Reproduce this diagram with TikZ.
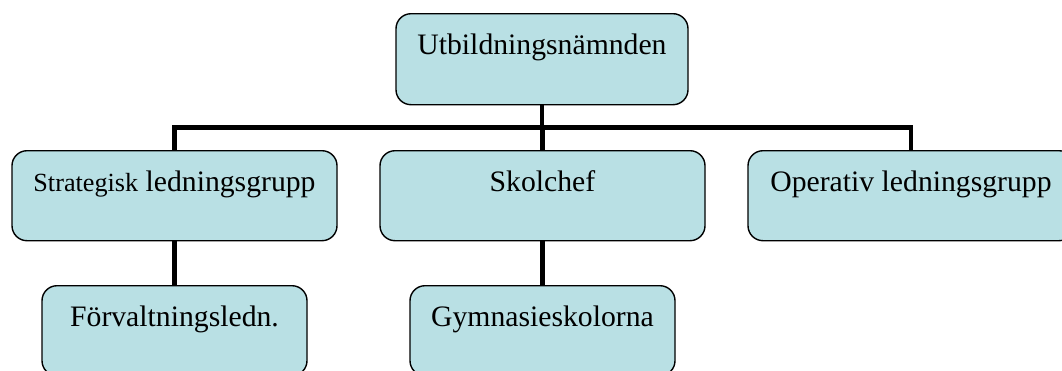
\documentclass[tikz,border=0pt]{standalone}
\usepackage{fontspec}
\setmainfont{Liberation Serif}
\definecolor{boxfill}{RGB}{185,224,228}
\tikzset{
  orgbox/.style={draw=black, line width=1.4pt, fill=boxfill, rounded corners=15pt,
    inner xsep=0pt, inner ysep=0pt, text height=41pt, text depth=49pt,
    anchor=north, font=\fontsize{29.7}{36}\selectfont},
  conn/.style={line width=4.8pt, line join=miter, black}
}
\begin{document}
\begin{tikzpicture}[x=1pt,y=-1pt]
\useasboundingbox (0,0) rectangle (1062,370);
\clip (0,0) rectangle (1062,370);
\fill[white] (0,0) rectangle (1062,370);
\coordinate (bar) at (0,127.5);
% connectors are drawn first, boxes on top
\path (542,13) node[orgbox, minimum width=292pt, text depth=50pt] (top) {Utbildningsnämnden};
\path (174.5,150) node[orgbox, minimum width=325pt] (strat) {{\fontsize{26.2}{32}\selectfont Strategisk} ledningsgrupp};
\path (542.5,150) node[orgbox, minimum width=325pt] (skol) {Skolchef};
\path (911,150) node[orgbox, minimum width=326pt] (op) {Operativ ledningsgrupp};
\path (174.5,285) node[orgbox, minimum width=265pt] (forv) {Förvaltningsledn.};
\path (542.5,285) node[orgbox, minimum width=265pt] (gym) {Gymnasieskolorna};
\draw[conn] (top.south) -- (top.south |- bar);
\draw[conn] (strat.north) -- (strat.north |- bar) -- (op.north |- bar) -- (op.north);
\draw[conn] (skol.north) -- (skol.north |- bar);
\draw[conn] (strat.south) -- (forv.north);
\draw[conn] (skol.south) -- (gym.north);
\end{tikzpicture}
\end{document}
